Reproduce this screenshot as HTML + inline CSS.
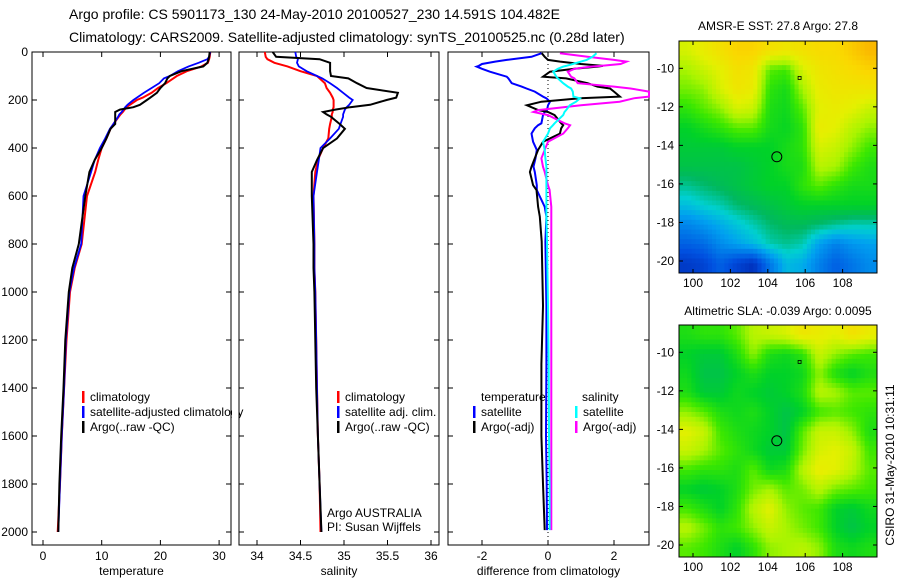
<!DOCTYPE html>
<html><head><meta charset="utf-8"><style>
body{margin:0;background:#fff}
svg{display:block;font-family:"Liberation Sans",sans-serif}
</style></head><body>
<svg id="fig" width="900" height="580" viewBox="0 0 900 580">
<text x="69" y="19" font-size="14">Argo profile: CS 5901173_130 24-May-2010 20100527_230 14.591S 104.482E</text>
<text x="69" y="42" font-size="14">Climatology: CARS2009. Satellite-adjusted climatology: synTS_20100525.nc (0.28d later)</text>
<text x="778" y="30" font-size="12" text-anchor="middle">AMSR-E SST: 27.8 Argo: 27.8</text>
<text x="778" y="315" font-size="12" text-anchor="middle">Altimetric SLA: -0.039 Argo: 0.0095</text>
<text transform="translate(894,465) rotate(-90)" font-size="12" text-anchor="middle">CSIRO 31-May-2010 10:31:11</text>
<g id="g"></g>
</svg>
<script>
// ---- data ----
const depthsArgo = [0,20,30,45,60,80,100,110,130,150,170,190,200,220,230,240,250,260,270,300,320,360,400,450,500,600,800,900,1000,1200,1400,1600,1800,2000];
const tempArgo   = [28.4,28.3,28.2,28.0,27.3,23.6,21.6,21.2,20.8,20.0,19.4,18.3,17.7,16.5,15.4,13.1,12.3,12.3,12.3,12.3,11.5,10.8,10.0,8.8,7.9,7.2,6.1,5.0,4.4,3.8,3.5,3.1,2.8,2.6];
const tempClim   = [28.5,28.4,28.3,28.1,27.0,24.5,22.8,22.2,21.0,19.6,18.5,17.0,16.0,14.8,14.2,13.9,13.6,13.2,12.9,12.0,11.5,10.8,10.0,9.4,8.9,7.5,6.6,5.4,4.6,4.0,3.6,3.2,2.9,2.5];
const tempSat    = [28.5,28.3,28.0,26.5,24.8,23.0,21.6,20.6,19.8,18.5,17.2,16.0,15.4,14.4,14.0,13.7,13.4,13.0,12.8,12.0,11.4,10.6,9.7,8.8,8.2,6.9,6.5,5.3,4.5,3.9,3.6,3.2,2.9,2.6];
const salArgo    = [34.18,34.22,34.72,34.84,34.84,34.84,34.85,35.05,35.15,35.26,35.62,35.6,35.49,35.3,35.07,34.9,34.76,34.8,34.85,34.95,35.01,34.92,34.76,34.69,34.63,34.63,34.65,34.65,34.66,34.67,34.68,34.70,34.72,34.74];
const salClim    = [34.09,34.1,34.12,34.2,34.35,34.5,34.69,34.72,34.78,34.8,34.84,34.87,34.88,34.88,34.88,34.87,34.87,34.86,34.86,34.84,34.83,34.82,34.76,34.7,34.67,34.65,34.66,34.66,34.67,34.68,34.69,34.70,34.72,34.73];
const salSat     = [34.44,34.45,34.47,34.46,34.48,34.57,34.69,34.75,34.84,34.92,34.99,35.06,35.1,35.06,35.03,35.01,35.0,34.99,34.99,34.96,34.94,34.84,34.73,34.71,34.69,34.65,34.66,34.66,34.67,34.68,34.69,34.70,34.72,34.74];
const depthsDiff = [5,20,33,40,50,58,61,70,82,103,110,130,144,152,165,186,193,207,222,242,250,263,297,305,318,340,374,408,443,478,500,555,575,645,686,790,1058,1300,1600,1800,1992];
const dTempSat   = [-0.19,-0.5,-1.25,-1.6,-2.0,-2.1,-2.16,-2.0,-1.76,-1.25,-1.2,-1.1,-0.8,-0.65,-0.4,-0.15,-0.05,0.06,0.0,-0.03,-0.1,-0.15,-0.2,-0.3,-0.4,-0.5,-0.45,-0.34,-0.38,-0.44,-0.4,-0.34,-0.34,-0.1,-0.05,-0.08,-0.05,-0.05,-0.06,-0.04,-0.03];
const dTempArgo  = [-0.19,-0.1,0.0,0.37,1.0,1.66,1.5,0.8,0.06,-0.15,0.55,1.2,1.5,1.88,2.0,2.18,0.97,-0.2,-0.64,-0.3,0.0,0.2,0.4,0.46,0.4,0.36,-0.15,-0.3,-0.4,-0.5,-0.55,-0.45,-0.35,-0.3,-0.25,-0.19,-0.15,-0.2,-0.2,-0.15,-0.1];
const dSalSat    = [1.47,1.35,1.17,1.0,0.75,0.55,0.46,0.3,0.16,0.25,0.3,0.46,0.6,0.7,0.75,0.77,0.97,0.85,0.66,0.55,0.5,0.46,0.2,0.15,0.06,0.0,-0.15,-0.1,-0.08,-0.05,-0.05,-0.05,-0.05,-0.05,-0.05,-0.03,0.0,0.02,0.03,0.05,0.05];
const dSalArgo   = [0.36,1.2,2.0,2.38,2.2,1.6,1.3,0.8,0.6,0.7,0.8,0.9,2.0,2.5,3.1,3.1,2.6,2.17,1.0,-0.3,-0.44,0.0,0.5,0.67,0.6,0.46,0.0,-0.1,-0.2,-0.15,-0.1,0.0,0.05,0.1,0.1,0.1,0.1,0.1,0.1,0.1,0.1];
const mapLonTicks = [100,102,104,106,108];
const mapLatTicks = [-10,-12,-14,-16,-18,-20];
const sstGrid = [
[0.74,0.78,0.82,0.86,0.86,0.82,0.80,0.82,0.84,0.84,0.88,0.92],
[0.68,0.72,0.76,0.82,0.80,0.62,0.60,0.74,0.80,0.82,0.84,0.86],
[0.64,0.66,0.74,0.80,0.78,0.58,0.55,0.68,0.78,0.80,0.80,0.80],
[0.58,0.62,0.66,0.74,0.72,0.56,0.54,0.62,0.76,0.78,0.76,0.72],
[0.52,0.55,0.58,0.62,0.62,0.55,0.53,0.58,0.78,0.76,0.70,0.66],
[0.50,0.50,0.50,0.52,0.52,0.52,0.55,0.58,0.74,0.72,0.66,0.60],
[0.48,0.48,0.48,0.48,0.50,0.52,0.55,0.56,0.70,0.68,0.60,0.56],
[0.42,0.44,0.46,0.48,0.50,0.52,0.52,0.58,0.62,0.58,0.55,0.55],
[0.35,0.38,0.40,0.44,0.46,0.48,0.50,0.52,0.52,0.52,0.52,0.52],
[0.25,0.28,0.32,0.36,0.40,0.44,0.46,0.46,0.44,0.42,0.40,0.40],
[0.18,0.20,0.26,0.30,0.34,0.40,0.42,0.40,0.30,0.24,0.28,0.30],
[0.10,0.12,0.18,0.12,0.08,0.22,0.34,0.32,0.24,0.18,0.22,0.26]];
const slaGrid = [
[0.56,0.58,0.58,0.62,0.70,0.72,0.74,0.80,0.78,0.76,0.82,0.78],
[0.52,0.50,0.50,0.56,0.66,0.56,0.54,0.58,0.72,0.66,0.62,0.60],
[0.54,0.48,0.48,0.52,0.56,0.52,0.52,0.54,0.66,0.56,0.52,0.56],
[0.56,0.50,0.50,0.54,0.52,0.50,0.52,0.56,0.70,0.68,0.62,0.62],
[0.66,0.62,0.56,0.54,0.56,0.52,0.48,0.52,0.60,0.62,0.60,0.58],
[0.76,0.72,0.60,0.56,0.54,0.52,0.48,0.62,0.72,0.72,0.66,0.56],
[0.72,0.68,0.62,0.58,0.54,0.50,0.50,0.64,0.74,0.76,0.72,0.60],
[0.60,0.58,0.58,0.56,0.62,0.54,0.56,0.70,0.78,0.76,0.70,0.62],
[0.52,0.50,0.52,0.56,0.64,0.68,0.62,0.64,0.70,0.64,0.62,0.60],
[0.60,0.56,0.52,0.58,0.70,0.76,0.66,0.62,0.60,0.52,0.50,0.54],
[0.70,0.64,0.58,0.60,0.66,0.72,0.68,0.64,0.60,0.52,0.48,0.52],
[0.62,0.60,0.56,0.52,0.58,0.66,0.68,0.70,0.66,0.56,0.54,0.56]];
const argoLon = 104.482, argoLat = -14.591;

const NS="http://www.w3.org/2000/svg", G=document.getElementById('g');
function mk(t,a,p){const e=document.createElementNS(NS,t);for(const k in a)e.setAttribute(k,a[k]);(p||G).appendChild(e);return e;}
const yD = d => 52 + d*0.24;
const TOP=52, BOT=545;
function panel(name,l,r,xf,ticks,fmt,ylab,title){
  const g=mk('g',{});
  
  
  const b=mk('rect',{x:l,y:TOP,width:r-l,height:BOT-TOP,fill:'none',stroke:'#000','stroke-width':1},g);
  
  
  ticks.forEach(v=>{const x=xf(v);
    mk('line',{x1:x,x2:x,y1:BOT,y2:BOT-5,stroke:'#000'},g);
    mk('line',{x1:x,x2:x,y1:TOP,y2:TOP+5,stroke:'#000'},g);
    const t=mk('text',{x:x,y:560,'font-size':12,'text-anchor':'middle'},g);t.textContent=fmt(v);
    
    
  });
  for(let d=0;d<=2000;d+=200){const y=yD(d);
    mk('line',{x1:l,x2:l+5,y1:y,y2:y,stroke:'#000'},g);
    mk('line',{x1:r,x2:r-5,y1:y,y2:y,stroke:'#000'},g);
    if(ylab){const t=mk('text',{x:28,y:y+4,'font-size':12,'text-anchor':'end'},g);t.textContent=d;
      
      }
  }
  const tt=mk('text',{x:(l+r)/2,y:575,'font-size':12,'text-anchor':'middle'},g);tt.textContent=title;
  
  
  return g;
}
function line(name,depths,vals,xf,col,w,l,r){
  const pts=depths.map((d,i)=>Math.max(l,Math.min(r,xf(vals[i]))).toFixed(1)+','+yD(d).toFixed(1)).join(' ');
  const e=mk('polyline',{points:pts,fill:'none',stroke:col,'stroke-width':w,'stroke-linejoin':'miter'});
  
  
}
function legend(name,x,y,col,label,fs){
  const r=mk('rect',{x:x,y:y-10,width:2.5,height:12,fill:col});
  
  
  const t=mk('text',{x:x+8,y:y,'font-size':fs||12});t.textContent=label;
  
  
}
function txt(name,x,y,s){const t=mk('text',{x:x,y:y,'font-size':12});t.textContent=s;
  
  }

// Panel 1 temperature
const xT=v=>43+v*5.87;
panel('temperature-panel',32,231,xT,[0,10,20,30],v=>v,true,'temperature');
line('temp-climatology-line',depthsArgo,tempClim,xT,'#f00',2,32,231);
line('temp-satellite-line',depthsArgo,tempSat,xT,'#00f',1.8,32,231);
line('temp-argo-line',depthsArgo,tempArgo,xT,'#000',2,32,231);
legend('legend-climatology',82,401,'#f00','climatology');
legend('legend-satellite-adjusted',82,416,'#00f','satellite-adjusted climatology');
legend('legend-argo',82,431,'#000','Argo(..raw -QC)');
mk('rect',{x:232,y:404,width:7,height:16,fill:'#fff'});

// Panel 2 salinity
const xS=v=>257+(v-34)*87;
panel('salinity-panel',239,439,xS,[34,34.5,35,35.5,36],v=>v,false,'salinity');
line('sal-climatology-line',depthsArgo,salClim,xS,'#f00',2,239,439);
line('sal-satellite-line',depthsArgo,salSat,xS,'#00f',1.8,239,439);
line('sal-argo-line',depthsArgo,salArgo,xS,'#000',2,239,439);
legend('legend-sal-climatology',337,401,'#f00','climatology');
legend('legend-sal-satellite',337,416,'#00f','satellite adj. clim.');
legend('legend-sal-argo',337,431,'#000','Argo(..raw -QC)');
txt('argo-australia-label',327,517,'Argo AUSTRALIA');
txt('pi-label',327,531,'PI: Susan Wijffels');

// Panel 3 differences
const xDf=v=>548+v*33;
panel('difference-panel',448,649,xDf,[-2,0,2],v=>v,false,'difference from climatology');
const zl=mk('line',{x1:xDf(0),x2:xDf(0),y1:TOP,y2:BOT,stroke:'#000','stroke-dasharray':'1,3'});


line('diff-temp-satellite-line',depthsDiff,dTempSat,xDf,'#00f',2,448,649);
line('diff-temp-argo-line',depthsDiff,dTempArgo,xDf,'#000',2,448,649);
line('diff-sal-argo-line',depthsDiff,dSalArgo,xDf,'#f0f',2,448,649);
line('diff-sal-satellite-line',depthsDiff,dSalSat,xDf,'#0ff',2,448,649);
txt('legend-temperature-heading',481,401,'temperature');
legend('legend-temp-satellite',473,416,'#00f','satellite');
legend('legend-temp-argo',473,431,'#000','Argo(-adj)');
txt('legend-salinity-heading',582,401,'salinity');
legend('legend-sal-sat-diff',575,416,'#0ff','satellite');
legend('legend-sal-argo-diff',575,431,'#f0f','Argo(-adj)');

// Maps
const stops=[[0,[0,16,150]],[0.15,[0,80,224]],[0.3,[0,160,240]],[0.38,[0,208,208]],[0.45,[0,184,96]],[0.52,[0,210,40]],[0.6,[60,232,0]],[0.68,[170,244,0]],[0.76,[228,240,0]],[0.85,[250,216,0]],[0.95,[250,170,0]]];
function cmap(v){for(let i=1;i<stops.length;i++){if(v<=stops[i][0]||i==stops.length-1){const a=stops[i-1],b=stops[i];let t=(v-a[0])/(b[0]-a[0]);t=Math.max(0,Math.min(1,t));
  return 'rgb('+a[1].map((c,k)=>Math.round(c+(b[1][k]-c)*t)).join(',')+')';}}}
function sample(grid,fy,fx){ // bilinear, fy/fx in cell-center coords
  const nr=grid.length,nc=grid[0].length;
  fy=Math.max(0,Math.min(nr-1,fy));fx=Math.max(0,Math.min(nc-1,fx));
  const i=Math.min(nr-2,Math.floor(fy)),j=Math.min(nc-2,Math.floor(fx)),ty=fy-i,tx=fx-j;
  return grid[i][j]*(1-ty)*(1-tx)+grid[i][j+1]*(1-ty)*tx+grid[i+1][j]*ty*(1-tx)+grid[i+1][j+1]*ty*tx;
}
function map(name,grid,top,lat10){
  const L=679,R=877,H=232,lonX=lo=>693+(lo-100)*18.7,latY=la=>lat10+(-10-la)*19.27;
  const g=mk('g',{});
  
  
  const nr=grid.length,nc=grid[0].length,S=4,NR=nr*S,NC=nc*S,cw=(R-L)/NC,ch=H/NR;
  for(let i=0;i<NR;i++)for(let j=0;j<NC;j++){
    const v=sample(grid,(i+0.5)/S-0.5,(j+0.5)/S-0.5);
    const c=mk('rect',{x:(L+j*cw).toFixed(2),y:(top+i*ch).toFixed(2),width:(cw+0.5).toFixed(2),height:(ch+0.5).toFixed(2),fill:cmap(v)},g);
    
    
  }
  const f=mk('rect',{x:L,y:top,width:R-L,height:H,fill:'none',stroke:'#000'},g);
  
  
  mapLonTicks.forEach(lo=>{const x=lonX(lo);
    mk('line',{x1:x,x2:x,y1:top+H,y2:top+H-4,stroke:'#000'},g);
    mk('line',{x1:x,x2:x,y1:top,y2:top+4,stroke:'#000'},g);
    const t=mk('text',{x:x,y:top+H+14,'font-size':12,'text-anchor':'middle'},g);t.textContent=lo;
    
    });
  mapLatTicks.forEach(la=>{const y=latY(la);
    mk('line',{x1:L,x2:L+4,y1:y,y2:y,stroke:'#000'},g);
    mk('line',{x1:R,x2:R-4,y1:y,y2:y,stroke:'#000'},g);
    const t=mk('text',{x:674,y:y+4,'font-size':12,'text-anchor':'end'},g);t.textContent=la;
    
    });
  const c=mk('circle',{cx:lonX(argoLon),cy:latY(argoLat),r:5,fill:'none',stroke:'#000','stroke-width':1},g);
  
  
  const m=mk('rect',{x:lonX(105.7)-1.5,y:latY(-10.5)-1.5,width:3,height:3,fill:'none',stroke:'#000','stroke-width':0.8},g);
  
  
}
map('sst-map',sstGrid,41,68.3);
map('sla-map',slaGrid,325,352.3);
</script>
</body></html>
